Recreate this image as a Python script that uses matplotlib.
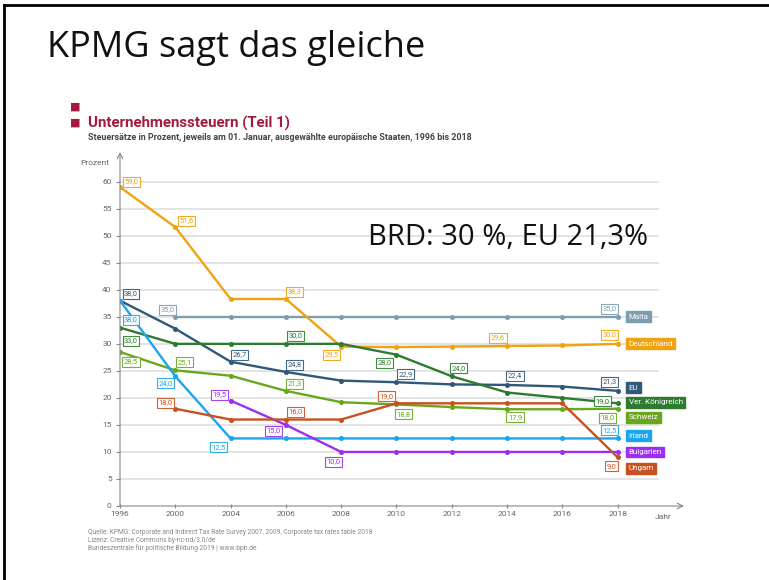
import matplotlib.pyplot as plt
from matplotlib.lines import Line2D

plt.rcParams['font.family'] = ['Roboto', 'DejaVu Sans']

# Jahre (kategoriale x-Achse, gleiche Abstände)
years = ['1996', '2000', '2004', '2006', '2008', '2010', '2012', '2014', '2016', '2018']

# Steuersätze in Prozent, None = keine Angabe
deutschland = [59.0, 51.6, 38.3, 38.3, 29.5, 29.4, 29.5, 29.6, 29.7, 30.0]
malta = [None, 35.0, 35.0, 35.0, 35.0, 35.0, 35.0, 35.0, 35.0, 35.0]
eu = [38.0, 32.8, 26.7, 24.8, 23.2, 22.9, 22.5, 22.4, 22.1, 21.3]
uk = [33.0, 30.0, 30.0, 30.0, 30.0, 28.0, 24.0, 21.0, 20.0, 19.0]
schweiz = [28.5, 25.1, 24.1, 21.3, 19.2, 18.8, 18.3, 17.9, 17.9, 18.0]
irland = [38.0, 24.0, 12.5, 12.5, 12.5, 12.5, 12.5, 12.5, 12.5, 12.5]
bulgarien = [None, None, 19.5, 15.0, 10.0, 10.0, 10.0, 10.0, 10.0, 10.0]
ungarn = [None, 18.0, 16.0, 16.0, 16.0, 19.0, 19.0, 19.0, 19.0, 9.0]

names = ['Malta', 'Deutschland', 'EU', 'Ver. Königreich', 'Schweiz', 'Irland', 'Bulgarien', 'Ungarn']
series = [malta, deutschland, eu, uk, schweiz, irland, bulgarien, ungarn]
colors = ['#7c9fb0', '#f0a30f', '#2f5879', '#2e7b30', '#69a81c', '#1ba5ee', '#9a2ff0', '#c9511f']
# Position der Namensschilder rechts (y-Wert)
name_y = [35.0, 30.0, 21.9, 19.2, 16.4, 13.0, 10.0, 7.0]

# beschriftete Punkte: (Index, dx, dy) in Pixel
labels = {
    'Malta': [(1, -8, 7), (9, -8, 8)],
    'Deutschland': [(0, 11, 5), (1, 11, 6), (3, 9, 7), (4, -10, -8), (7, -9, 8), (9, -8, 9)],
    'EU': [(0, 11, 7), (2, 9, 7), (3, 9, 7), (5, 9, 8), (7, 8, 9), (9, -8, 9)],
    'Ver. Königreich': [(0, 11, -13), (3, 10, 8), (5, -12, -8), (6, 7, 8), (9, -15, 2)],
    'Schweiz': [(0, 11, -10), (1, 9, 8), (3, 9, 7), (5, 7, -10), (7, 8, -8), (9, -10, -9)],
    'Irland': [(0, 11, -19), (1, -10, -7), (2, -12, -9), (9, -8, 8)],
    'Bulgarien': [(2, -11, 6), (3, -12, -6), (4, -8, -10)],
    'Ungarn': [(1, -10, 6), (3, 10, 8), (5, -10, 7), (9, -6, -9)],
}

fig = plt.figure(figsize=(7.69, 5.80), dpi=100)

# Folienrahmen
fig.add_artist(Line2D([4 / 769, 4 / 769], [0, 1 - 5 / 580], color='black', lw=2))
fig.add_artist(Line2D([4 / 769, 1], [1 - 5 / 580, 1 - 5 / 580], color='black', lw=2))

fig.text(47 / 769, 1 - 57 / 580, 'KPMG sagt das gleiche', fontsize=26,
         family=['Open Sans', 'DejaVu Sans'], va='baseline', ha='left', color='#111111')

red = '#a3193f'
fig.text(70 / 769, 1 - 107 / 580, '■', fontsize=8, color=red, va='center')
fig.text(70 / 769, 1 - 123 / 580, '■', fontsize=8, color=red, va='center')
fig.text(88 / 769, 1 - 123 / 580, 'Unternehmenssteuern (Teil 1)', fontsize=10.8,
         fontweight='bold', color=red, va='center')
fig.text(88 / 769, 1 - 137 / 580,
         'Steuersätze in Prozent, jeweils am 01. Januar, ausgewählte europäische Staaten, 1996 bis 2018',
         fontsize=6.4, fontweight='bold', color='#444444', va='center')

ax = fig.add_axes([120 / 769, 74 / 580, 564 / 769, 354 / 580])
ax.set_xlim(0, 10.2)
ax.set_ylim(0, 65.5)
x = list(range(len(years)))

grid_c = '#e4e4e4'
for v in range(5, 65, 5):
    ax.plot([0, 9.73], [v, v], color=grid_c, lw=1.4, zorder=0)

for name, vals, col in zip(names, series, colors):
    xs = [i for i, v in zip(x, vals) if v is not None]
    ys = [v for v in vals if v is not None]
    ax.plot(xs, ys, color=col, lw=1.7, marker='o', markersize=2.6, zorder=3)
    for idx, dx, dy in labels[name]:
        val = vals[idx]
        ax.annotate(f'{val:.1f}'.replace('.', ','), (idx, val), xytext=(dx, dy),
                    textcoords='offset pixels', ha='center', va='center',
                    fontsize=5.4, color=col, zorder=5,
                    bbox=dict(boxstyle='square,pad=0.2', fc='white', ec=col, lw=0.8, alpha=0.9))

for name, col, yy in zip(names, colors, name_y):
    ax.text(9.2, yy, name, fontsize=5.8, color='white', ha='left', va='center',
            clip_on=False, zorder=6,
            bbox=dict(boxstyle='square,pad=0.3', fc=col, ec=col))

# Achsen
for s in ['top', 'right', 'bottom', 'left']:
    ax.spines[s].set_visible(False)
axis_c = '#888888'
ax.annotate('', xy=(10.2, 0), xytext=(0, 0),
            arrowprops=dict(arrowstyle='->', color=axis_c, lw=0.8, shrinkA=0, shrinkB=0))
ax.annotate('', xy=(0, 65.5), xytext=(0, 0),
            arrowprops=dict(arrowstyle='->', color=axis_c, lw=0.8, shrinkA=0, shrinkB=0))

ax.set_xticks(x)
ax.set_xticklabels(years)
ax.set_yticks(range(0, 65, 5))
ax.tick_params(axis='x', colors=axis_c, labelcolor='#666666', labelsize=6, length=3,
               direction='inout', pad=2)
ax.tick_params(axis='y', colors=axis_c, labelcolor='#666666', labelsize=6, length=3, pad=3)
ax.text(9.82, -1.5, 'Jahr', fontsize=6, color='#666666', ha='center', va='top')
ax.text(-0.2, 63.5, 'Prozent', fontsize=6, color='#666666', ha='right', va='center')

fig.text(368 / 769, 1 - 245 / 580, 'BRD: 30 %, EU 21,3%', fontsize=21,
         family=['Open Sans', 'DejaVu Sans'], va='baseline', ha='left', color='#111111')

foot = ['Quelle: KPMG: Corporate and Indirect Tax Rate Survey 2007, 2009, Corporate tax rates table 2018',
        'Lizenz: Creative Commons by-nc-nd/3.0/de',
        'Bundeszentrale für politische Bildung 2019 | www.bpb.de']
for i, line in enumerate(foot):
    fig.text(88 / 769, 1 - (532 + 8 * i) / 580, line, fontsize=4.8, color='#888888', va='center')

fig.savefig('out.png', dpi=100)
